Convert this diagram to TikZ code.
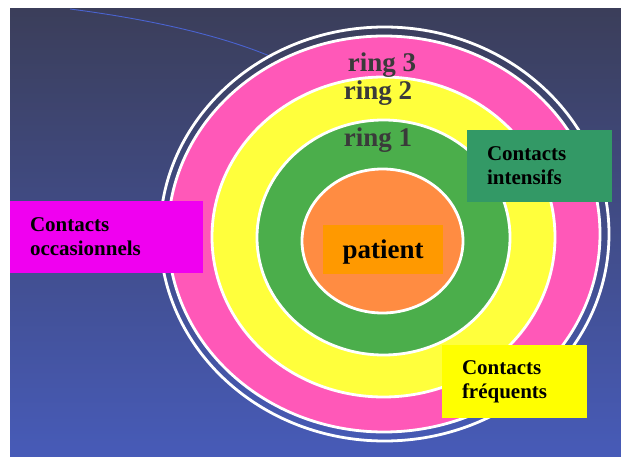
\documentclass[tikz,border=0pt]{standalone}
\usepackage{fontspec}
\setmainfont{Liberation Serif}
\definecolor{bgtop}{HTML}{3B3E5A}
\definecolor{bgmid}{HTML}{40497F}
\definecolor{bgbot}{HTML}{475BB8}
\definecolor{arcblue}{HTML}{4A63D0}
\definecolor{pinkring}{HTML}{FF58B8}
\definecolor{yellowring}{HTML}{FFFF3C}
\definecolor{greenring}{HTML}{4BAE4B}
\definecolor{orangecore}{HTML}{FF8C42}
\definecolor{patientbox}{HTML}{FF9900}
\definecolor{occbox}{HTML}{F000F0}
\definecolor{intbox}{HTML}{339966}
\definecolor{freqbox}{HTML}{FFFF00}
\definecolor{ringgray}{HTML}{3A3A3A}

\begin{document}
\begin{tikzpicture}[x=1pt,y=-1pt,
    ring/.style={draw=white,line width=2.8pt},
    ringlabel/.style={anchor=base,text=ringgray,font=\fontsize{27}{30}\selectfont\bfseries},
    contactbox/.style={minimum height=72pt,inner xsep=20pt,inner ysep=0pt,align=left,
      font=\fontsize{21}{24}\selectfont\bfseries}]
  \useasboundingbox[fill=white] (0,0) rectangle (621,457);
  \shade[top color=bgtop,middle color=bgmid,bottom color=bgbot] (10,9) rectangle (621,457);
  \draw[arcblue,line width=0.9pt] (70,9) .. controls (140,18) and (215,33) .. (272,57);

  % rings, outside in
  \draw[ring] (384.5,234) ellipse [x radius=224.5pt,y radius=207pt];
  \filldraw[ring,fill=pinkring] (384,234) ellipse [x radius=216pt,y radius=198pt];
  \filldraw[ring,fill=yellowring] (383.5,237) ellipse [x radius=171.5pt,y radius=160pt];
  \filldraw[ring,fill=greenring] (383.5,237.5) ellipse [x radius=126.5pt,y radius=117.5pt];
  \filldraw[ring,fill=orangecore] (382.5,241) ellipse [x radius=80.5pt,y radius=72pt];

  \node[ringlabel] (ring3) at (382,72) {ring 3};
  \node[ringlabel] (ring2) at (378,100) {ring 2};
  \node[ringlabel] (ring1) at (378,147) {ring 1};

  \node[fill=patientbox,minimum width=120pt,minimum height=49pt,text depth=0pt,
    font=\fontsize{27}{30}\selectfont\bfseries] (patient) at (383,249.5) {patient};

  \node[contactbox,fill=occbox,text width=153pt] (occasionnels) at (106.5,237)
    {Contacts\\occasionnels};
  \node[contactbox,fill=intbox,text width=105pt] (intensifs) at (539.5,166)
    {Contacts\\intensifs};
  \node[contactbox,fill=freqbox,text width=105pt,minimum height=73pt] (frequents) at (514.5,381.5)
    {Contacts\\fréquents};
\end{tikzpicture}
\end{document}
